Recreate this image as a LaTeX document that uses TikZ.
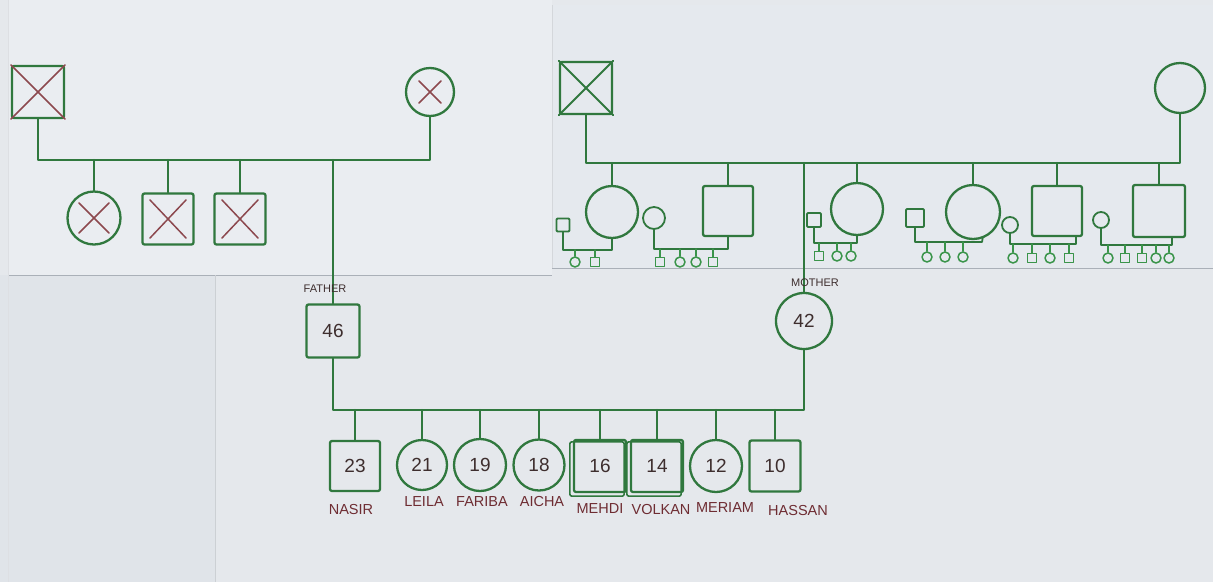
\documentclass[tikz,border=0pt]{standalone}
\usepackage{fontspec}
\setmainfont{Liberation Sans}
\usetikzlibrary{calc}
\definecolor{gr}{RGB}{48,120,62}
\definecolor{grl}{RGB}{58,148,74}
\definecolor{xr}{RGB}{140,72,78}
\definecolor{ink}{RGB}{110,44,50}
\definecolor{dk}{RGB}{62,46,46}
\definecolor{paperA}{RGB}{234,237,241}
\definecolor{paperB}{RGB}{229,233,238}
\definecolor{paperC}{RGB}{224,228,233}
\definecolor{paperD}{RGB}{229,232,236}
\definecolor{edgec}{RGB}{170,176,184}
\begin{document}
\begin{tikzpicture}[x=1pt,y=-1pt,
  ln/.style={draw=gr, line width=2.3pt, line join=round, line cap=round},
  sln/.style={draw=gr, line width=1.8pt, line join=round, line cap=round},
  kln/.style={draw=grl, line width=1.5pt, line join=round, line cap=round},
  xln/.style={draw=xr, line width=1.5pt, line cap=round},
  sqbox/.style={ln, rectangle, rounded corners=2pt, minimum size=#1, inner sep=0pt},
  sqbox/.default=50pt,
  cibox/.style={ln, circle, minimum size=#1, inner sep=0pt},
  cibox/.default=50pt,
  smsq/.style={sln, rectangle, rounded corners=1pt, minimum size=#1, inner sep=0pt},
  smci/.style={sln, circle, minimum size=#1, inner sep=0pt},
  ksq/.style={kln, rectangle, minimum size=9pt, inner sep=0pt},
  kci/.style={kln, circle, minimum size=10pt, inner sep=0pt},
  num/.style={text=dk, font=\fontsize{19}{19}\selectfont},
  nm/.style={text=ink, font=\fontsize{14.5}{14.5}\selectfont, inner sep=0pt},
  lab/.style={text=dk, font=\fontsize{11}{11}\selectfont, inner sep=0pt},
  edge/.style={draw=edgec, line width=0.8pt}
]
\useasboundingbox (0,0) rectangle (1213,582);
% paper sheets
\fill[paperD] (0,0) rectangle (1213,582);
\fill[paperA] (8,0) rectangle (552,275);
\fill[paperB] (552,5) rectangle (1213,268);
\fill[paperC] (0,275) rectangle (215,582);
\draw[edge] (8,275) -- (552,275);
\draw[edge] (552,268) -- (1213,268);
\draw[edge, draw=edgec!50] (552,5) -- (552,268);
\draw[edge, draw=edgec!60] (215,275) -- (215,582);
\draw[edge, draw=edgec!40] (8,0) -- (8,582);

% ---------------- father's family ----------------
\node[sqbox=52pt] (lgf) at (38,92) {};
\node[cibox=48pt] (lgm) at (430,92) {};
\coordinate (lbl) at (38,160);
\coordinate (lbr) at (430,160);
\draw[ln] (lgf.south) -- (lbl) -- (lbr) -- (lgm.south);
\draw[xln] (lgf.north west) -- (lgf.south east) (lgf.north east) -- (lgf.south west);
\draw[xln] ([shift={(-11,-11)}]lgm.center) -- ([shift={(11,11)}]lgm.center)
           ([shift={(11,-11)}]lgm.center) -- ([shift={(-11,11)}]lgm.center);

\node[cibox=53pt] (lc1) at (94,218) {};
\node[sqbox=51pt] (lc2) at (168,219) {};
\node[sqbox=51pt] (lc3) at (240,219) {};
\foreach \n in {lc1,lc2,lc3} \draw[ln] (\n.north) -- (\n.north |- lbl);
\draw[xln] ([shift={(-15,-15)}]lc1.center) -- ([shift={(15,15)}]lc1.center)
           ([shift={(15,-15)}]lc1.center) -- ([shift={(-15,15)}]lc1.center);
\foreach \n in {lc2,lc3}
  \draw[xln] ([shift={(-18,-19)}]\n.center) -- ([shift={(18,19)}]\n.center)
             ([shift={(18,-19)}]\n.center) -- ([shift={(-18,19)}]\n.center);

\coordinate (lbf) at (333,160);
\node[sqbox=53pt, num] (father) at (333,331) {46};
\draw[ln] (lbf) -- (father.north);
\node[lab] (lfather) at (325,289) {FATHER};

% ---------------- mother's family ----------------
\node[sqbox=52pt] (rgf) at (586,88) {};
\node[cibox=50pt] (rgm) at (1180,88) {};
\coordinate (rbl) at (586,163);
\coordinate (rbr) at (1180,163);
\draw[ln] (rgf.south) -- (rbl) -- (rbr) -- (rgm.south);
\draw[ln, line width=1.8pt] (rgf.north west) -- (rgf.south east) (rgf.north east) -- (rgf.south west);

\node[cibox=52pt] (ra) at (612,212) {};
\node[sqbox=50pt] (rb) at (728,211) {};
\node[cibox=52pt] (rc) at (857,209) {};
\node[cibox=54pt] (rd) at (973,212) {};
\node[sqbox=50pt] (re) at (1057,211) {};
\node[sqbox=52pt] (rf) at (1159,211) {};
\foreach \n in {ra,rb,rc,rd,re,rf} \draw[ln] (\n.north) -- (\n.north |- rbl);

\node[cibox=56pt, num] (mother) at (804,321) {42};
\draw[ln] (mother.north |- rbl) -- (mother.north);
\node[lab] (lmother) at (815,283) {MOTHER};

% family a
\node[smsq=13pt] (sa) at (563,225) {};
\coordinate (ba) at (612,250);
\draw[sln] (sa.south) |- (ba) -- (ra.south);
\foreach \x/\s [count=\i] in {575/kci,595/ksq}
  {\node[\s] (ka\i) at (\x,262) {}; \draw[kln] (ka\i.north) -- (ka\i.north |- ba);}
% family b
\node[smci=22pt] (sb) at (654,218) {};
\coordinate (bb) at (728,249);
\draw[sln] (sb.south) |- (bb) -- (rb.south);
\foreach \x/\s [count=\i] in {660/ksq,680/kci,696/kci,713/ksq}
  {\node[\s] (kb\i) at (\x,262) {}; \draw[kln] (kb\i.north) -- (kb\i.north |- bb);}
% family c
\node[smsq=14pt] (sc) at (814,220) {};
\coordinate (bc) at (857,243);
\draw[sln] (sc.south) |- (bc) -- (rc.south);
\foreach \x/\s [count=\i] in {819/ksq,837/kci,851/kci}
  {\node[\s] (kc\i) at (\x,256) {}; \draw[kln] (kc\i.north) -- (kc\i.north |- bc);}
% family d
\node[smsq=18pt] (sd) at (915,218) {};
\coordinate (bd) at (982,242);
\draw[sln] (sd.south) |- (bd) -- (rd.-70);
\foreach \x/\s [count=\i] in {927/kci,945/kci,963/kci}
  {\node[\s] (kd\i) at (\x,257) {}; \draw[kln] (kd\i.north) -- (kd\i.north |- bd);}
% family e
\node[smci=16pt] (se) at (1010,225) {};
\coordinate (be) at (1076,244);
\draw[sln] (se.south) |- (be) -- (re.south -| be);
\foreach \x/\s [count=\i] in {1013/kci,1032/ksq,1050/kci,1069/ksq}
  {\node[\s] (ke\i) at (\x,258) {}; \draw[kln] (ke\i.north) -- (ke\i.north |- be);}
% family f
\node[smci=16pt] (sf) at (1101,220) {};
\coordinate (bf) at (1172,245);
\draw[sln] (sf.south) |- (bf) -- (rf.south -| bf);
\foreach \x/\s [count=\i] in {1108/kci,1125/ksq,1142/ksq,1156/kci,1169/kci}
  {\node[\s] (kf\i) at (\x,258) {}; \draw[kln] (kf\i.north) -- (kf\i.north |- bf);}

% ---------------- children ----------------
\coordinate (cbl) at (333,410);
\draw[ln] (father.south) -- (father.south |- cbl) -- (mother.south |- cbl) -- (mother.south);

\node[sqbox=50pt, num] (nasir)  at (355,466) {23};
\node[cibox=50pt, num] (leila)  at (422,465) {21};
\node[cibox=52pt, num] (fariba) at (480,465) {19};
\node[cibox=51pt, num] (aicha)  at (539,465) {18};
\node[sqbox=52pt, num] (mehdi)  at (600,466) {16};
\node[sqbox=52pt, num] (volkan) at (657,466) {14};
\node[cibox=52pt, num] (meriam) at (716,466) {12};
\node[sqbox=51pt, num] (hassan) at (775,466) {10};
\foreach \n in {nasir,leila,fariba,aicha,mehdi,volkan,meriam,hassan}
  \draw[ln] (\n.north) -- (\n.north |- cbl);
\foreach \n in {mehdi,volkan}
  \draw[ln, line width=1.6pt, rounded corners=2pt]
     ([shift={(-3,3)}]\n.south west) rectangle ([shift={(-3,3)}]\n.north east);

\node[nm] (tnasir)  at (351,509) {NASIR};
\node[nm] (tleila)  at (424,502) {LEILA};
\node[nm] (tfariba) at (482,502) {FARIBA};
\node[nm] (taicha)  at (542,501) {AICHA};
\node[nm] (tmehdi)  at (600,509) {MEHDI};
\node[nm] (tvolkan) at (661,509) {VOLKAN};
\node[nm] (tmeriam) at (725,508) {MERIAM};
\node[nm] (thassan) at (798,510) {HASSAN};
\end{tikzpicture}
\end{document}
